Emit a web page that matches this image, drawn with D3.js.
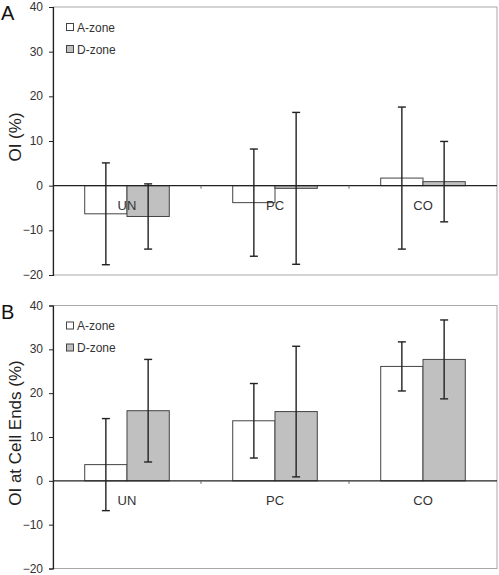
<!DOCTYPE html>
<html>
<head>
<meta charset="utf-8">
<script src="https://cdn.jsdelivr.net/npm/d3@7"></script>
<style>
  html, body { margin: 0; padding: 0; background: #fff; }
  svg { display: block; font-family: "Liberation Sans", Arial, sans-serif; }
</style>
</head>
<body>
<svg id="chart" width="499" height="575"></svg>
<script>
// ---- Data ----
const categories = ["UN", "PC", "CO"];
const seriesNames = ["A-zone", "D-zone"];
const yTicks = [-20, -10, 0, 10, 20, 30, 40];

// Panel A: OI (%)
const panelA_Azone = [-6.3, -3.8, 1.7];
const panelA_Azone_err = [11.4, 12.0, 15.9];
const panelA_Dzone = [-6.9, -0.6, 0.9];
const panelA_Dzone_err = [7.3, 17.0, 9.0];

// Panel B: OI at Cell Ends (%)
const panelB_Azone = [3.7, 13.7, 26.1];
const panelB_Azone_err = [10.5, 8.5, 5.6];
const panelB_Dzone = [16.0, 15.8, 27.7];
const panelB_Dzone_err = [11.7, 14.9, 9.0];

const panels = [
  { letter: "A", title: "OI (%)", top: 7, bottom: 275,
    series: [
      { name: seriesNames[0], values: panelA_Azone, errs: panelA_Azone_err },
      { name: seriesNames[1], values: panelA_Dzone, errs: panelA_Dzone_err }
    ] },
  { letter: "B", title: "OI at Cell Ends (%)", top: 305.5, bottom: 568.5,
    series: [
      { name: seriesNames[0], values: panelB_Azone, errs: panelB_Azone_err },
      { name: seriesNames[1], values: panelB_Dzone, errs: panelB_Dzone_err }
    ] }
];

const fills = { "A-zone": "#ffffff", "D-zone": "#c0c0c0" };
const left = 53, right = 497;

const svg = d3.select("#chart");

panels.forEach(p => {
  const g = svg.append("g");
  const y = d3.scaleLinear().domain([-20, 40]).range([p.bottom, p.top]);
  const x0 = d3.scaleBand().domain(categories).range([left, right]).paddingInner(0).paddingOuter(0);
  const bw = x0.bandwidth();
  const barW = bw / 3.5;
  const x1 = d3.scaleBand().domain(seriesNames).range([0, barW * 2]);

  // plot frame (light gray)
  g.append("rect")
    .attr("x", left).attr("y", p.top)
    .attr("width", right - left).attr("height", p.bottom - p.top)
    .attr("fill", "none").attr("stroke", "#a8a8a8").attr("stroke-width", 1);

  // bars
  p.series.forEach(s => {
    g.append("g").selectAll("rect")
      .data(categories.map((c, i) => ({ c, v: s.values[i] })))
      .join("rect")
      .attr("x", d => x0(d.c) + (bw - barW * 2) / 2 + x1(s.name))
      .attr("width", barW)
      .attr("y", d => Math.min(y(d.v), y(0)))
      .attr("height", d => Math.abs(y(d.v) - y(0)))
      .attr("fill", fills[s.name])
      .attr("stroke", "#444").attr("stroke-width", 1);
  });

  // category labels
  g.append("g").selectAll("text")
    .data(categories).join("text")
    .attr("x", d => x0(d) + bw / 2)
    .attr("y", y(0) + 24)
    .attr("text-anchor", "middle")
    .attr("font-size", 13).attr("fill", "#333")
    .text(d => d);

  // zero line with category tick marks
  g.append("line")
    .attr("x1", left).attr("x2", right)
    .attr("y1", y(0)).attr("y2", y(0))
    .attr("stroke", "#222").attr("stroke-width", 1.2);
  g.append("g").selectAll("line")
    .data(categories.slice(1)).join("line")
    .attr("x1", d => x0(d)).attr("x2", d => x0(d))
    .attr("y1", y(0)).attr("y2", y(0) + 3)
    .attr("stroke", "#666").attr("stroke-width", 1);

  // error bars
  p.series.forEach(s => {
    const eg = g.append("g").attr("stroke", "#222").attr("stroke-width", 1.4);
    categories.forEach((c, i) => {
      const cx = x0(c) + (bw - barW * 2) / 2 + x1(s.name) + barW / 2;
      const hi = y(s.values[i] + s.errs[i]);
      const lo = y(s.values[i] - s.errs[i]);
      eg.append("line").attr("x1", cx).attr("x2", cx).attr("y1", hi).attr("y2", lo);
      eg.append("line").attr("x1", cx - 4).attr("x2", cx + 4).attr("y1", hi).attr("y2", hi);
      eg.append("line").attr("x1", cx - 4).attr("x2", cx + 4).attr("y1", lo).attr("y2", lo);
    });
  });

  // y axis
  const yAxis = d3.axisLeft(y).tickValues(yTicks).tickSize(4).tickPadding(6).tickFormat(d3.format("d"));
  const ax = g.append("g").attr("transform", `translate(${left},0)`).call(yAxis);
  ax.select(".domain").attr("stroke", "#222").attr("stroke-width", 1.2);
  ax.selectAll(".tick line").attr("stroke", "#222");
  ax.selectAll(".tick text").attr("font-size", 12).attr("fill", "#333").attr("dy", "0.3em")
    .attr("font-family", "Liberation Sans, Arial, sans-serif");

  // y title
  const ymid = (p.top + p.bottom) / 2;
  g.append("text")
    .attr("transform", `translate(21,${ymid - 4}) rotate(-90)`)
    .attr("text-anchor", "middle")
    .attr("font-size", 17).attr("fill", "#222")
    .text(p.title);

  // panel letter
  g.append("text")
    .attr("x", 1).attr("y", p.top + 13)
    .attr("font-size", 20).attr("fill", "#111")
    .text(p.letter);

  // legend
  const lg = g.append("g");
  seriesNames.forEach((n, i) => {
    const cy = p.top + 20 + i * 22;
    lg.append("rect")
      .attr("x", 66.5).attr("y", cy - 3.5).attr("width", 7).attr("height", 7)
      .attr("fill", fills[n]).attr("stroke", "#444").attr("stroke-width", 1);
    lg.append("text")
      .attr("x", 77).attr("y", cy + 4.5)
      .attr("font-size", 12).attr("fill", "#333")
      .text(n);
  });
});
</script>
</body>
</html>
